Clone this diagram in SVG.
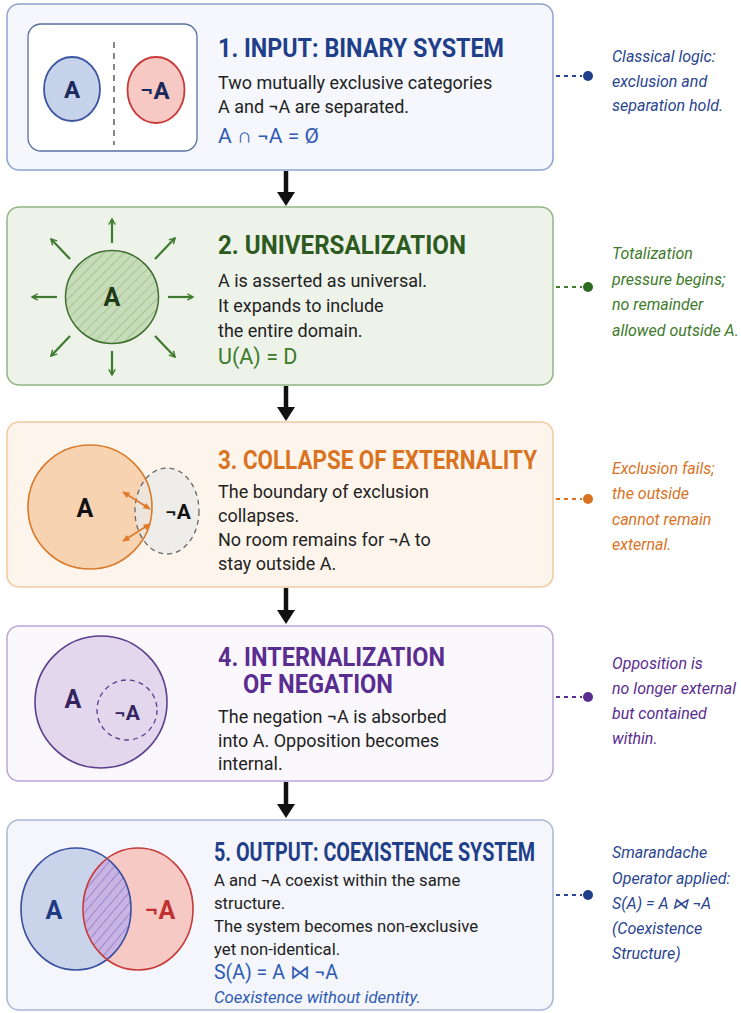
<svg xmlns="http://www.w3.org/2000/svg" width="741" height="1013" viewBox="0 0 741 1013">
<style>
text{font-family:Roboto,"Liberation Sans",sans-serif}
.t{font-weight:700;font-size:25px}
.b{font-size:18px;fill:#222}
.b5{font-size:16.7px;fill:#222}
.s{font-size:16px;font-style:italic}
.lbl{font-weight:700;text-anchor:middle}
.flow{stroke:#111;stroke-width:4.5}
.lead{stroke-width:1.8;stroke-dasharray:4 4}
</style>
<defs>
<marker id="ga" viewBox="0 0 10 10" refX="8" refY="5" markerWidth="8" markerHeight="8" orient="auto-start-reverse" markerUnits="userSpaceOnUse"><path d="M1 1 L8 5 L1 9" fill="none" stroke="#3f7a30" stroke-width="1.8"/></marker>
<marker id="oa" viewBox="0 0 10 10" refX="8" refY="5" markerWidth="8" markerHeight="8" orient="auto-start-reverse" markerUnits="userSpaceOnUse"><path d="M0 1 L9 5 L0 9 Z" fill="#e07a2a"/></marker>
<pattern id="gh" width="7" height="7" patternUnits="userSpaceOnUse" patternTransform="rotate(45)"><rect width="7" height="7" fill="#c7dcb9"/><line x1="0" y1="0" x2="0" y2="7" stroke="#8fb57c" stroke-width="1.2"/></pattern>
<pattern id="ph" width="7" height="7" patternUnits="userSpaceOnUse" patternTransform="rotate(40)"><rect width="7" height="7" fill="#c8b4e2"/><line x1="0" y1="0" x2="0" y2="7" stroke="#8a68c0" stroke-width="1.3"/></pattern>
<clipPath id="cb"><ellipse cx="76" cy="909" rx="55" ry="61"/></clipPath>
</defs>

<g id="connectors">
<line class="flow" x1="286" y1="171" x2="286" y2="194"/><polygon points="277,192 295,192 286,206" fill="#111"/>
<line class="flow" x1="286" y1="386" x2="286" y2="409"/><polygon points="277,407 295,407 286,421" fill="#111"/>
<line class="flow" x1="286" y1="588" x2="286" y2="612"/><polygon points="277,610 295,610 286,624" fill="#111"/>
<line class="flow" x1="286" y1="782" x2="286" y2="806"/><polygon points="277,804 295,804 286,818" fill="#111"/>
<line class="lead" stroke="#2a4590" x1="556" y1="76" x2="582" y2="76"/><circle cx="588" cy="76" r="5" fill="#1f3f8a"/>
<line class="lead" stroke="#3d7a2a" x1="556" y1="287" x2="582" y2="287"/><circle cx="588" cy="287" r="5" fill="#2f6a22"/>
<line class="lead" stroke="#d9731f" x1="556" y1="499" x2="582" y2="499"/><circle cx="588" cy="499" r="5" fill="#d9731f"/>
<line class="lead" stroke="#5a2d91" x1="556" y1="697" x2="582" y2="697"/><circle cx="588" cy="697" r="5" fill="#5a2d91"/>
<line class="lead" stroke="#2a4590" x1="556" y1="895" x2="582" y2="895"/><circle cx="588" cy="895" r="5" fill="#1f3f8a"/>
</g>

<g id="node1">
<rect x="7" y="4" width="546" height="166" rx="12" fill="#f5f7fc" stroke="#8ea2cc" stroke-width="1.5"/>
<rect x="28" y="24" width="169" height="127" rx="13" fill="#fff" stroke="#5a6f9e" stroke-width="1.3"/>
<line x1="114" y1="42" x2="114" y2="145" stroke="#555" stroke-width="1.4" stroke-dasharray="6 5"/>
<ellipse cx="72" cy="89" rx="28" ry="32" fill="#c6d3ea" stroke="#3b55a0" stroke-width="1.8"/>
<ellipse cx="156" cy="90" rx="28.5" ry="33" fill="#f7c9c5" stroke="#c83a3a" stroke-width="1.8"/>
<text class="lbl" x="72" y="98" font-size="24" fill="#1b2a5a">A</text>
<text class="lbl" x="155" y="99" font-size="24" fill="#1b2a5a">¬A</text>
<text class="t" x="218" y="57" fill="#1f3f8a" textLength="286" lengthAdjust="spacingAndGlyphs">1. INPUT: BINARY SYSTEM</text>
<text class="b" x="218" y="89">Two mutually exclusive categories</text>
<text class="b" x="218" y="113">A and ¬A are separated.</text>
<text x="218" y="143" font-size="21" fill="#2f5bb5">A ∩ ¬A = Ø</text>
</g>
<g id="note1" fill="#2a4590">
<text class="s" x="612" y="62">Classical logic:</text>
<text class="s" x="612" y="87">exclusion and</text>
<text class="s" x="612" y="111">separation hold.</text>
</g>

<g id="node2">
<rect x="7" y="207" width="546" height="178" rx="12" fill="#eef3ea" stroke="#8fb585" stroke-width="1.5"/>
<circle cx="112" cy="297" r="46.5" fill="url(#gh)" stroke="#3f6e32" stroke-width="1.5"/>
<text class="lbl" x="112" y="306" font-size="25" fill="#1f3a17">A</text>
<g stroke="#3f7a30" stroke-width="2.2" marker-end="url(#ga)">
<line x1="112" y1="243" x2="112" y2="219"/>
<line x1="112" y1="351" x2="112" y2="375"/>
<line x1="57" y1="297" x2="32" y2="297"/>
<line x1="168" y1="297" x2="193" y2="297"/>
<line x1="70" y1="259" x2="51" y2="239"/>
<line x1="155" y1="259" x2="175" y2="238"/>
<line x1="70" y1="336" x2="51" y2="356"/>
<line x1="155" y1="336" x2="175" y2="357"/>
</g>
<text class="t" x="218" y="254" fill="#2d5a1f" textLength="248" lengthAdjust="spacingAndGlyphs">2. UNIVERSALIZATION</text>
<text class="b" x="218" y="287">A is asserted as universal.</text>
<text class="b" x="218" y="312">It expands to include</text>
<text class="b" x="218" y="337">the entire domain.</text>
<text x="218" y="364" font-size="21.5" fill="#3d7a2a">U(A) = D</text>
</g>
<g id="note2" fill="#3d7a2a">
<text class="s" x="612" y="259">Totalization</text>
<text class="s" x="612" y="285">pressure begins;</text>
<text class="s" x="612" y="310">no remainder</text>
<text class="s" x="612" y="336">allowed outside A.</text>
</g>

<g id="node3">
<rect x="7" y="422" width="546" height="165" rx="12" fill="#fdf5ec" stroke="#f0c9a0" stroke-width="1.5"/>
<circle cx="90" cy="507" r="62" fill="#f8d3b1"/>
<ellipse cx="167" cy="511" rx="32" ry="43" fill="#e9e9e9" fill-opacity="0.75"/>
<circle cx="90" cy="507" r="62" fill="none" stroke="#d97a2b" stroke-width="1.6"/>
<ellipse cx="167" cy="511" rx="32" ry="43" fill="none" stroke="#666" stroke-width="1.3" stroke-dasharray="5 4"/>
<text class="lbl" x="85" y="517" font-size="25" fill="#111">A</text>
<text class="lbl" x="178" y="519" font-size="21" fill="#111">¬A</text>
<g stroke="#e07a2a" stroke-width="1.6" marker-start="url(#oa)" marker-end="url(#oa)">
<line x1="123" y1="492" x2="150" y2="509"/>
<line x1="123" y1="541" x2="150" y2="524"/>
</g>
<text class="t" x="218" y="469" fill="#d9731f" textLength="319" lengthAdjust="spacingAndGlyphs">3. COLLAPSE OF EXTERNALITY</text>
<text class="b" x="218" y="498">The boundary of exclusion</text>
<text class="b" x="218" y="522">collapses.</text>
<text class="b" x="218" y="546">No room remains for ¬A to</text>
<text class="b" x="218" y="570">stay outside A.</text>
</g>
<g id="note3" fill="#d9731f">
<text class="s" x="612" y="474">Exclusion fails;</text>
<text class="s" x="612" y="499">the outside</text>
<text class="s" x="612" y="525">cannot remain</text>
<text class="s" x="612" y="550">external.</text>
</g>

<g id="node4">
<rect x="7" y="626" width="546" height="155" rx="12" fill="#faf8fc" stroke="#b9a5d6" stroke-width="1.5"/>
<circle cx="101" cy="702" r="66" fill="#e3d7ee" stroke="#5b3f8c" stroke-width="1.6"/>
<circle cx="127" cy="710" r="30" fill="none" stroke="#5b3f8c" stroke-width="1.3" stroke-dasharray="5 4"/>
<text class="lbl" x="73" y="708" font-size="25" fill="#33245e">A</text>
<text class="lbl" x="127" y="720" font-size="21" fill="#33245e">¬A</text>
<text class="t" x="218" y="666" fill="#5a2d91" textLength="227" lengthAdjust="spacingAndGlyphs">4. INTERNALIZATION</text>
<text class="t" x="243" y="693" fill="#5a2d91" textLength="150" lengthAdjust="spacingAndGlyphs">OF NEGATION</text>
<text class="b" x="218" y="723">The negation ¬A is absorbed</text>
<text class="b" x="218" y="747">into A. Opposition becomes</text>
<text class="b" x="218" y="770">internal.</text>
</g>
<g id="note4" fill="#5a2d91">
<text class="s" x="612" y="669">Opposition is</text>
<text class="s" x="612" y="694">no longer external</text>
<text class="s" x="612" y="719">but contained</text>
<text class="s" x="612" y="744">within.</text>
</g>

<g id="node5">
<rect x="7" y="820" width="546" height="190" rx="12" fill="#f4f6fb" stroke="#a9b7d6" stroke-width="1.5"/>
<ellipse cx="76" cy="909" rx="55" ry="61" fill="#c9d4ea"/>
<ellipse cx="138" cy="909" rx="55" ry="61" fill="#f6c9c4"/>
<ellipse cx="138" cy="909" rx="55" ry="61" fill="url(#ph)" clip-path="url(#cb)"/>
<ellipse cx="76" cy="909" rx="55" ry="61" fill="none" stroke="#3b4fa0" stroke-width="1.6"/>
<ellipse cx="138" cy="909" rx="55" ry="61" fill="none" stroke="#c83a3a" stroke-width="1.6"/>
<text class="lbl" x="54" y="919" font-size="25" fill="#1f3a80">A</text>
<text class="lbl" x="160" y="919" font-size="25" fill="#c03030">¬A</text>
<text class="t" x="214" y="861" fill="#1f3f8a" textLength="321" lengthAdjust="spacingAndGlyphs">5. OUTPUT: COEXISTENCE SYSTEM</text>
<text class="b5" x="214" y="886">A and ¬A coexist within the same</text>
<text class="b5" x="214" y="909">structure.</text>
<text class="b5" x="214" y="932">The system becomes non-exclusive</text>
<text class="b5" x="214" y="955">yet non-identical.</text>
<text x="214" y="979" font-size="19.5" fill="#2f5bb5">S(A) = A ⋈ ¬A</text>
<text x="214" y="1003" font-size="16.7" font-style="italic" fill="#2f5bb5">Coexistence without identity.</text>
</g>
<g id="note5" fill="#2a4590">
<text class="s" x="612" y="858">Smarandache</text>
<text class="s" x="612" y="884">Operator applied:</text>
<text class="s" x="612" y="909">S(A) = A ⋈ ¬A</text>
<text class="s" x="612" y="934">(Coexistence</text>
<text class="s" x="612" y="959">Structure)</text>
</g>
</svg>
